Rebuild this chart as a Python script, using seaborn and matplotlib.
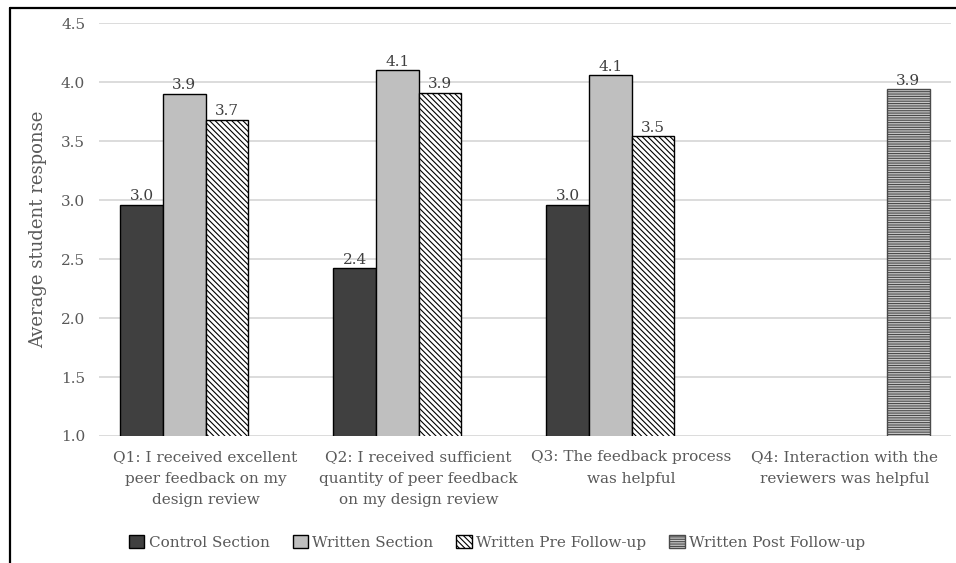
import numpy as np
import pandas as pd
import seaborn as sns
import matplotlib.pyplot as plt
import matplotlib.patches as mpatches
from matplotlib.lines import Line2D

# Survey questions (x-axis categories)
questions = [
    "Q1: I received excellent\npeer feedback on my\ndesign review",
    "Q2: I received sufficient\nquantity of peer feedback\non my design review",
    "Q3: The feedback process\nwas helpful",
    "Q4: Interaction with the\nreviewers was helpful",
]

# Mean responses per section (NaN = question not asked of that group)
control_section = [2.96, 2.42, 2.96, np.nan]
written_section = [3.90, 4.10, 4.06, np.nan]
written_pre = [3.68, 3.91, 3.54, np.nan]
written_post = [np.nan, np.nan, np.nan, 3.94]

series_names = ["Control Section", "Written Section",
                "Written Pre Follow-up", "Written Post Follow-up"]
series_values = [control_section, written_section, written_pre, written_post]

y_ticks = [1.0, 1.5, 2.0, 2.5, 3.0, 3.5, 4.0, 4.5]

rows = []
for name, vals in zip(series_names, series_values):
    for q, v in zip(questions, vals):
        rows.append({"question": q, "group": name, "value": v})
df = pd.DataFrame(rows)

sns.set_theme(style="white")
plt.rcParams["font.family"] = ["DejaVu Serif"]
plt.rcParams["hatch.linewidth"] = 0.8

text_gray = "#595959"
face_colors = ["#404040", "#bfbfbf", "white", "#c8c8c8"]
edge_colors = ["black", "black", "black", "#4a4a4a"]
hatches = [None, None, "\\\\\\\\\\\\", "-------"]

fig = plt.figure(figsize=(9.56, 5.63), dpi=100)
ax = fig.add_axes([0.1036, 0.2256, 0.8912, 0.7334])

sns.barplot(data=df, x="question", y="value", hue="group",
            order=questions, hue_order=series_names,
            width=0.8, errorbar=None, legend=False, ax=ax, zorder=3)

handles = []
for cont, fc, ec, h, name in zip(ax.containers, face_colors, edge_colors,
                                 hatches, series_names):
    for bar in cont:
        bar.set_facecolor(fc)
        bar.set_edgecolor(ec)
        bar.set_linewidth(1.0)
        if h:
            bar.set_hatch(h)
    labels = [f"{v:.1f}" if np.isfinite(v) else "" for v in cont.datavalues]
    ax.bar_label(cont, labels=labels, padding=1, color="#404040", fontsize=11)
    handles.append(mpatches.Patch(facecolor=fc, edgecolor=ec, linewidth=1.0,
                                  hatch=h, label=name))

ax.set_ylim(1.0, 4.5)
ax.set_yticks(y_ticks)
ax.set_yticklabels([f"{t:.1f}" for t in y_ticks])
ax.set_xlim(-0.5, 3.5)
ax.yaxis.grid(True, color="#d9d9d9", linewidth=1.3, zorder=0)
ax.set_axisbelow(True)
for s in ["top", "right", "left", "bottom"]:
    ax.spines[s].set_visible(False)
ax.tick_params(axis="both", length=0, colors=text_gray, labelsize=11)
ax.tick_params(axis="y", pad=10)
ax.tick_params(axis="x", pad=10)
for lbl in ax.get_xticklabels():
    lbl.set_linespacing(1.7)
ax.set_xlabel("")
ax.set_ylabel("Average student response", color=text_gray, fontsize=13,
              labelpad=10)

leg = fig.legend(handles=handles, loc="center", bbox_to_anchor=(0.52, 0.037),
                 ncol=4, frameon=False, fontsize=11, handlelength=1.0,
                 handleheight=1.0, handletextpad=0.3, columnspacing=1.5)
for t in leg.get_texts():
    t.set_color(text_gray)

# Outer frame lines (top and left)
fig.add_artist(Line2D([0.0105, 1.0], [0.9858, 0.9858], color="black",
                      linewidth=1.6, transform=fig.transFigure))
fig.add_artist(Line2D([0.0105, 0.0105], [0.0, 0.9858], color="black",
                      linewidth=1.6, transform=fig.transFigure))

fig.savefig("out.png", dpi=100)
